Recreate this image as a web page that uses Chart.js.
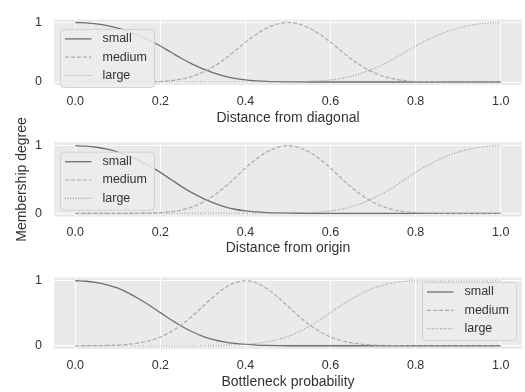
<!DOCTYPE html>
<html>
<head>
<meta charset="utf-8">
<script src="https://cdn.jsdelivr.net/npm/chart.js@4.4.1/dist/chart.umd.min.js"></script>
<style>
  html, body { margin: 0; padding: 0; background: #ffffff; }
  #wrap { position: relative; width: 525px; height: 392px; overflow: hidden; }
  #wrap canvas { position: absolute; left: 0; }
</style>
</head>
<body>
<div id="wrap">
  <canvas id="c1" width="525" height="128" style="top:0px"></canvas>
  <canvas id="c2" width="525" height="158" style="top:100px"></canvas>
  <canvas id="c3" width="525" height="134" style="top:258px"></canvas>
</div>
<script>
// Sample positions shared by all membership curves
const xValues = [0, 0.025, 0.05, 0.075, 0.1, 0.125, 0.15, 0.175, 0.2, 0.225,
  0.25, 0.275, 0.3, 0.325, 0.35, 0.375, 0.4, 0.425, 0.45, 0.475,
  0.5, 0.525, 0.55, 0.575, 0.6, 0.625, 0.65, 0.675, 0.7, 0.725,
  0.75, 0.775, 0.8, 0.825, 0.85, 0.875, 0.9, 0.925, 0.95, 0.975, 1.0];

const seriesLabels = ['small', 'medium', 'large'];
const xTicks = [0, 0.2, 0.4, 0.6, 0.8, 1.0];
const xTickLabels = ['0.0', '0.2', '0.4', '0.6', '0.8', '1.0'];
const yTicks = [0, 1];
const yTickLabels = ['0', '1'];
const axisTitles = ['Distance from diagonal', 'Distance from origin', 'Bottleneck probability'];
const yTitle = 'Membership degree';

// Distance from diagonal
const diagSmall = [1, 0.994, 0.977, 0.948, 0.905, 0.848, 0.780, 0.698, 0.605, 0.5,
  0.395, 0.302, 0.222, 0.154, 0.099, 0.060, 0.035, 0.020, 0.011, 0.006,
  0.003, 0.001, 0, 0, 0, 0, 0, 0, 0, 0,
  0, 0, 0, 0, 0, 0, 0, 0, 0, 0, 0];
const diagMedium = [0, 0, 0, 0, 0, 0, 0.001, 0.004, 0.010, 0.024,
  0.050, 0.095, 0.165, 0.26, 0.38, 0.52, 0.67, 0.80, 0.905, 0.975,
  1, 0.975, 0.905, 0.80, 0.67, 0.52, 0.38, 0.26, 0.165, 0.095,
  0.050, 0.024, 0.010, 0.004, 0.001, 0, 0, 0, 0, 0, 0];
const diagLarge = [0, 0, 0, 0, 0, 0, 0, 0, 0, 0,
  0, 0, 0, 0, 0, 0, 0, 0, 0, 0.001,
  0.003, 0.006, 0.011, 0.020, 0.035, 0.060, 0.099, 0.154, 0.222, 0.302,
  0.395, 0.5, 0.605, 0.698, 0.780, 0.848, 0.905, 0.948, 0.977, 0.994, 1];

// Distance from origin
const originSmall = [1, 0.994, 0.977, 0.948, 0.905, 0.848, 0.780, 0.698, 0.605, 0.5,
  0.395, 0.302, 0.222, 0.154, 0.099, 0.060, 0.035, 0.020, 0.011, 0.006,
  0.003, 0.001, 0, 0, 0, 0, 0, 0, 0, 0,
  0, 0, 0, 0, 0, 0, 0, 0, 0, 0, 0];
const originMedium = [0, 0, 0, 0, 0, 0, 0.001, 0.004, 0.010, 0.024,
  0.050, 0.095, 0.165, 0.26, 0.38, 0.52, 0.67, 0.80, 0.905, 0.975,
  1, 0.975, 0.905, 0.80, 0.67, 0.52, 0.38, 0.26, 0.165, 0.095,
  0.050, 0.024, 0.010, 0.004, 0.001, 0, 0, 0, 0, 0, 0];
const originLarge = [0, 0, 0, 0, 0, 0, 0, 0, 0, 0,
  0, 0, 0, 0, 0, 0, 0, 0, 0, 0.001,
  0.003, 0.006, 0.011, 0.020, 0.035, 0.060, 0.099, 0.154, 0.222, 0.302,
  0.395, 0.5, 0.605, 0.698, 0.780, 0.848, 0.905, 0.948, 0.977, 0.994, 1];

// Bottleneck probability
const bottleneckSmall = [1, 0.992, 0.970, 0.935, 0.885, 0.810, 0.720, 0.620, 0.51, 0.40,
  0.30, 0.215, 0.145, 0.095, 0.060, 0.035, 0.020, 0.010, 0.005, 0.002,
  0, 0, 0, 0, 0, 0, 0, 0, 0, 0,
  0, 0, 0, 0, 0, 0, 0, 0, 0, 0, 0];
const bottleneckMedium = [0, 0.001, 0.002, 0.005, 0.011, 0.023, 0.044, 0.080, 0.135, 0.216,
  0.325, 0.458, 0.607, 0.755, 0.882, 0.969, 1, 0.969, 0.882, 0.755,
  0.607, 0.458, 0.325, 0.216, 0.135, 0.080, 0.044, 0.023, 0.011, 0.005,
  0.002, 0.001, 0, 0, 0, 0, 0, 0, 0, 0, 0];
const bottleneckLarge = [0, 0, 0, 0, 0, 0, 0, 0, 0, 0,
  0, 0, 0, 0.002, 0.005, 0.010, 0.020, 0.035, 0.060, 0.095,
  0.145, 0.215, 0.30, 0.40, 0.51, 0.620, 0.720, 0.810, 0.885, 0.935,
  0.970, 0.992, 1, 1, 1, 1, 1, 1, 1, 1, 1];

const FONT = "'Liberation Sans', Arial, Helvetica, sans-serif";
const TEXT = '#333333';
Chart.defaults.font.family = FONT;

const lineStyles = [
  { color: '#6f6f6f', width: 1.3, dash: [] },
  { color: '#aaaaaa', width: 1.2, dash: [4, 2] },
  { color: '#9b9b9b', width: 1.2, dash: [1, 1.6] }
];

// Grey panel background behind the grid
const panelBackground = {
  id: 'panelBackground',
  beforeDraw(chart) {
    const { ctx, chartArea: a } = chart;
    ctx.save();
    ctx.fillStyle = '#eaeaea';
    ctx.fillRect(a.left, a.top, a.right - a.left, a.bottom - a.top);
    ctx.restore();
  }
};

// Framed legend placed inside the panel
const boxLegend = {
  id: 'boxLegend',
  afterDatasetsDraw(chart, args, opts) {
    const { ctx, chartArea: a } = chart;
    const w = 94, h = 58;
    const left = opts.corner === 'upper left' ? a.left + 6 : a.right - 6 - w;
    const top = opts.corner === 'upper left' ? a.top + 9.4 : a.bottom - 9 - h;
    ctx.save();
    ctx.beginPath();
    ctx.roundRect(left + 0.5, top + 0.5, w, h, 3);
    ctx.fillStyle = 'rgba(236,236,236,0.85)';
    ctx.fill();
    ctx.strokeStyle = '#d2d2d2';
    ctx.lineWidth = 1;
    ctx.stroke();
    chart.data.datasets.forEach((ds, i) => {
      const y = top + 10 + i * 18.3;
      ctx.beginPath();
      ctx.setLineDash(ds.borderDash || []);
      ctx.strokeStyle = ds.borderColor;
      ctx.lineWidth = ds.borderWidth;
      ctx.moveTo(left + 5, y);
      ctx.lineTo(left + 31.5, y);
      ctx.stroke();
      ctx.setLineDash([]);
      ctx.fillStyle = TEXT;
      ctx.font = '12.5px ' + FONT;
      ctx.textAlign = 'left';
      ctx.textBaseline = 'middle';
      ctx.fillText(ds.label, left + 42.5, y);
    });
    ctx.restore();
  }
};

function makeDatasets(values) {
  return values.map((arr, k) => ({
    label: seriesLabels[k],
    data: xValues.map((x, i) => ({ x: x, y: arr[i] })),
    borderColor: lineStyles[k].color,
    borderWidth: lineStyles[k].width,
    borderDash: lineStyles[k].dash,
    pointRadius: 0,
    fill: false,
    cubicInterpolationMode: 'monotone',
    order: 3 - k
  }));
}

function makeChart(id, values, cfg) {
  return new Chart(document.getElementById(id), {
    type: 'line',
    data: { datasets: makeDatasets(values) },
    plugins: [panelBackground, boxLegend],
    options: {
      responsive: false,
      animation: false,
      devicePixelRatio: 1,
      layout: { padding: { top: cfg.padTop, right: 3, bottom: 0, left: 0 } },
      plugins: {
        legend: { display: false },
        tooltip: { enabled: false },
        boxLegend: { corner: cfg.corner }
      },
      scales: {
        x: {
          type: 'linear',
          min: -0.05,
          max: 1.05,
          afterBuildTicks: s => { s.ticks = xTicks.map(v => ({ value: v })); },
          afterFit: s => { s.height = cfg.xHeight; },
          ticks: {
            callback: (v, i) => xTickLabels[i],
            color: TEXT,
            font: { size: 12.5 },
            padding: cfg.tickPad,
            maxRotation: 0
          },
          grid: { color: '#ffffff', lineWidth: 1, drawTicks: false },
          border: { display: false },
          title: {
            display: true,
            text: cfg.title,
            color: TEXT,
            font: { size: 14 },
            padding: { top: 0, bottom: cfg.titlePad }
          }
        },
        y: {
          type: 'linear',
          min: -0.05,
          max: 1.05,
          afterBuildTicks: s => { s.ticks = yTicks.map(v => ({ value: v })); },
          afterFit: s => { s.width = 54; },
          ticks: {
            callback: (v, i) => yTickLabels[i],
            color: TEXT,
            font: { size: 12.5 },
            padding: 12
          },
          grid: { color: '#ffffff', lineWidth: 1, drawTicks: false },
          border: { display: false },
          title: {
            display: cfg.yTitle,
            text: yTitle,
            color: TEXT,
            font: { size: 14 },
            padding: { top: 13.6, bottom: 0 }
          }
        }
      }
    }
  });
}

makeChart('c1', [diagSmall, diagMedium, diagLarge],
  { title: axisTitles[0], padTop: 10.6, xHeight: 43, tickPad: 9.2, titlePad: 1.6, corner: 'upper left', yTitle: false });
makeChart('c2', [originSmall, originMedium, originLarge],
  { title: axisTitles[1], padTop: 42.3, xHeight: 41.3, tickPad: 8.8, titlePad: 1.6, corner: 'upper left', yTitle: true });
makeChart('c3', [bottleneckSmall, bottleneckMedium, bottleneckLarge],
  { title: axisTitles[2], padTop: 16, xHeight: 43, tickPad: 9.5, titlePad: 1.9, corner: 'lower right', yTitle: false });
</script>
</body>
</html>
